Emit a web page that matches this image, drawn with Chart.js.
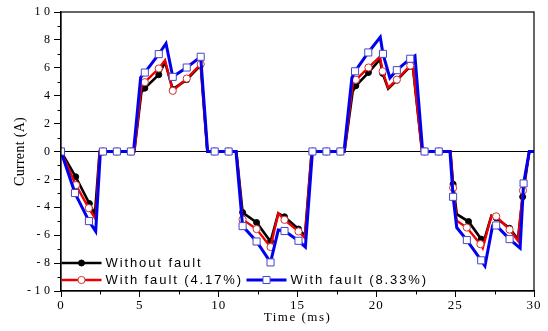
<!DOCTYPE html>
<html>
<head>
<meta charset="utf-8">
<script src="https://cdn.jsdelivr.net/npm/chart.js@4.4.1/dist/chart.umd.min.js"></script>
<style>
  html, body { margin: 0; padding: 0; background: #fff; }
  #wrap { width: 548px; height: 331px; }
</style>
</head>
<body>
<div id="wrap"><canvas id="currentChart"></canvas></div>
<script>
const seriesLabels = ["Without fault", "With fault (4.17%)", "With fault (8.33%)"];

// phase current, healthy drive (ms, A); mark = 1 where a symbol is drawn
const healthyTime = [0, 0.93, 1.8, 2.15, 2.45, 2.658, 3.544, 4.43, 4.65, 5.1, 5.316, 6.202, 6.6, 7.088, 7.974, 8.86, 9.28, 9.746, 10.632,
  11.12, 11.518, 12.404, 13.29, 13.78, 14.176, 15.062, 15.47, 15.9, 15.948, 16.834, 17.72, 17.98, 18.5, 18.7, 19.5, 20.23, 20.4, 20.75,
  21.3, 22.15, 22.3, 22.9, 23.06, 23.96, 24.7, 24.87, 25.1, 25.85, 26.65, 26.8, 27.3, 27.6, 28.45, 28.98, 29.28, 29.7, 30];
const healthyCurrent = [0, -1.81, -3.73, -4.5, 0, 0, 0, 0, 0, 4.25, 4.54, 5.5, 6.4, 4.45, 5.15, 6.2, 0, 0, 0,
  0, -4.37, -5.09, -6.45, -4.44, -4.68, -5.56, -6.04, 0, 0, 0, 0, 0, 4.3, 4.71, 5.66, 6.6, 5.6, 4.5,
  5.1, 6.1, 6.25, 0, 0, 0, 0, -2.34, -4.49, -5.02, -6.28, -6.5, -4.6, -4.75, -5.5, -6.3, -3.25, 0, 0];
const healthyMark = [1, 1, 1, 0, 0, 1, 1, 1, 0, 0, 1, 1, 0, 1, 1, 1, 0, 1, 1,
  0, 1, 1, 1, 0, 1, 1, 0, 0, 1, 1, 1, 0, 0, 1, 1, 0, 1, 0,
  1, 1, 0, 0, 1, 1, 0, 1, 0, 1, 1, 0, 0, 1, 1, 0, 1, 0, 0];

// 4.17 % fault
const fault1Time = [0, 0.95, 1.76, 2.2, 2.45, 2.658, 3.544, 4.43, 4.65, 5.1, 5.316, 6.202, 6.6, 7.088, 7.974, 8.86, 9.28, 9.746, 10.632,
  11.12, 11.518, 12.404, 13.29, 13.78, 14.176, 15.062, 15.47, 15.9, 15.948, 16.834, 17.72, 17.98, 18.5, 18.7, 19.5, 20.23, 20.4, 20.75,
  21.3, 22.15, 22.3, 22.9, 23.06, 23.96, 24.7, 24.87, 25.1, 25.74, 26.6, 26.75, 27.3, 27.6, 28.45, 28.98, 29.3, 29.7, 30];
const fault1Current = [0, -2.41, -4.06, -4.85, 0, 0, 0, 0, 0, 4.65, 4.97, 5.95, 6.55, 4.35, 5.23, 6.26, 0, 0, 0,
  0, -4.87, -5.56, -6.85, -4.44, -4.9, -5.73, -6.2, 0, 0, 0, 0, 0, 4.8, 5.14, 6.02, 6.8, 5.75, 4.56,
  5.15, 6.16, 6.3, 0, 0, 0, 0, -2.6, -4.97, -5.45, -6.64, -6.93, -4.61, -4.65, -5.6, -6.4, -2.8, 0, 0];
const fault1Mark = [1, 1, 1, 0, 0, 1, 1, 1, 0, 0, 1, 1, 0, 1, 1, 1, 0, 1, 1,
  0, 1, 1, 1, 0, 1, 1, 0, 0, 1, 1, 1, 0, 0, 1, 1, 0, 1, 0,
  1, 1, 0, 0, 1, 1, 0, 1, 0, 1, 1, 0, 0, 1, 1, 0, 1, 0, 0];

// 8.33 % fault
const fault2Time = [0, 0.886, 1.772, 2.2, 2.5, 2.658, 3.544, 4.43, 4.6, 5.05, 5.316, 6.202, 6.66, 7.088, 7.974, 8.86, 9.3, 9.746, 10.632,
  11.1, 11.518, 12.404, 13.29, 13.78, 14.176, 15.062, 15.5, 15.948, 16.834, 17.72, 17.95, 18.45, 18.65, 19.49, 20.25, 20.42, 20.86,
  21.3, 22.15, 22.45, 22.94, 23.06, 23.96, 24.67, 24.87, 25.1, 25.74, 26.65, 26.89, 27.37, 27.6, 28.45, 29.12, 29.34, 29.7, 30];
const fault2Current = [0, -2.98, -4.99, -5.73, 0, 0, 0, 0, 0, 5.3, 5.66, 6.98, 7.74, 5.35, 6.02, 6.79, 0, 0, 0,
  0, -5.35, -6.45, -7.95, -5.63, -5.7, -6.4, -6.85, 0, 0, 0, 0, 5.3, 5.75, 7.1, 8.2, 7.0, 5.27,
  5.83, 6.65, 6.86, 0, 0, 0, 0, -3.25, -5.45, -6.35, -7.8, -8.2, -5.33, -5.3, -6.28, -6.93, -2.29, 0, 0];
const fault2Mark = [1, 1, 1, 0, 0, 1, 1, 1, 0, 0, 1, 1, 0, 1, 1, 1, 0, 1, 1,
  0, 1, 1, 1, 0, 1, 1, 0, 1, 1, 1, 0, 0, 1, 1, 0, 1, 0,
  1, 1, 0, 0, 1, 1, 0, 1, 0, 1, 1, 0, 0, 1, 1, 0, 1, 0, 0];

const toPoints = (t, v) => t.map((x, i) => ({ x: x, y: v[i] }));

const styles = [
  { color: "#000000", width: 2.6, pointStyle: "circle", radius: 3, fill: "#000000", edge: "#000000" },
  { color: "#ee0000", width: 2.4, pointStyle: "circle", radius: 3.6, fill: "#ffffff", edge: "#d03030" },
  { color: "#0000ee", width: 3, pointStyle: "rect", radius: 5, fill: "#ffffff", edge: "#4646c8" },
];

function makeDataset(i, time, current, mark, order) {
  const s = styles[i];
  return {
    label: seriesLabels[i],
    data: toPoints(time, current),
    borderColor: s.color,
    borderWidth: s.width,
    pointStyle: s.pointStyle,
    pointRadius: (ctx) => (mark[ctx.dataIndex] ? s.radius : 0),
    pointBackgroundColor: s.fill,
    pointBorderColor: s.edge,
    pointBorderWidth: 1,
    pointHoverRadius: 0,
    tension: 0,
    order: order,
  };
}

// letter spacing for axis text, origin style
const spacing = { yLabels: "3.5px", xLabels: "1px", xTitle: "1.5px", yTitle: "0.3px" };

function spaced(fn, amount) {
  return function (area) {
    const c = this.ctx;
    c.save();
    c.letterSpacing = amount;
    fn.call(this, area);
    c.restore();
  };
}

const framePlugin = {
  id: "frame",
  beforeDraw(chart) {
    const { x, y } = chart.scales;
    if (!y._spaced) {
      y.drawLabels = spaced(y.drawLabels, spacing.yLabels);
      y.drawTitle = spaced(y.drawTitle, spacing.yTitle);
      x.drawLabels = spaced(x.drawLabels, spacing.xLabels);
      x.drawTitle = spaced(x.drawTitle, spacing.xTitle);
      y._spaced = true;
    }
  },
  afterDraw(chart) {
    const ctx = chart.ctx;
    const { left, right, top, bottom } = chart.chartArea;
    const { x, y } = chart.scales;
    ctx.save();
    ctx.strokeStyle = "#000";
    ctx.lineWidth = 1.2;
    ctx.strokeRect(left, top, right - left, bottom - top);

    // minor ticks
    ctx.lineWidth = 1;
    ctx.beginPath();
    for (let v = -9; v <= 9; v += 2) {
      const py = Math.round(y.getPixelForValue(v)) + 0.5;
      ctx.moveTo(left - 3.5, py);
      ctx.lineTo(left, py);
    }
    for (let t = 2.5; t < 30; t += 5) {
      const px = Math.round(x.getPixelForValue(t)) + 0.5;
      ctx.moveTo(px, bottom);
      ctx.lineTo(px, bottom + 3.5);
    }
    ctx.stroke();

    // legend
    const rows = [
      { i: 0, x: 61.5, y: 263 },
      { i: 1, x: 61.5, y: 280 },
      { i: 2, x: 246.5, y: 280 },
    ];
    ctx.font = "13px 'Liberation Sans', Arial, sans-serif";
    ctx.letterSpacing = "1.9px";
    ctx.textBaseline = "middle";
    ctx.fillStyle = "#000";
    rows.forEach((r) => {
      const s = styles[r.i];
      ctx.strokeStyle = s.color;
      ctx.lineWidth = s.width;
      ctx.beginPath();
      ctx.moveTo(r.x, r.y);
      ctx.lineTo(r.x + 40, r.y);
      ctx.stroke();
      ctx.fillStyle = s.fill;
      ctx.strokeStyle = s.edge;
      ctx.lineWidth = 1;
      Chart.helpers.drawPoint(ctx, { pointStyle: s.pointStyle, radius: s.radius, borderWidth: 1 }, r.x + 20, r.y);
      ctx.fillStyle = "#000";
      ctx.fillText(seriesLabels[r.i], r.x + 44, r.y + 0.5);
    });
    ctx.restore();
  },
};

window.onload = function () {
  const ctx = document.getElementById("currentChart").getContext("2d");
  new Chart(ctx, {
    type: "line",
    data: {
      datasets: [
        makeDataset(0, healthyTime, healthyCurrent, healthyMark, 3),
        makeDataset(1, fault1Time, fault1Current, fault1Mark, 2),
        makeDataset(2, fault2Time, fault2Current, fault2Mark, 1),
      ],
    },
    options: {
      responsive: true,
      maintainAspectRatio: false,
      animation: false,
      devicePixelRatio: 1,
      layout: { padding: { top: 12, right: 14, left: 0, bottom: 0 } },
      plugins: { legend: { display: false }, tooltip: { enabled: false } },
      events: [],
      scales: {
        x: {
          type: "linear",
          min: 0,
          max: 30,
          ticks: {
            stepSize: 5,
            color: "#000",
            padding: 1,
            maxRotation: 0,
            font: { family: "'Liberation Serif', 'Times New Roman', serif", size: 13 },
          },
          grid: { drawOnChartArea: false, tickLength: 6, tickColor: "#000", tickWidth: 1 },
          border: { color: "#000", width: 1.2 },
          title: {
            display: true,
            text: "Time (ms)",
            color: "#000",
            font: { family: "'Liberation Serif', 'Times New Roman', serif", size: 13 },
            padding: { top: 0, bottom: 5.5 },
          },
          afterFit: (s) => { s.height = 40; },
        },
        y: {
          min: -10,
          max: 10,
          ticks: {
            stepSize: 2,
            color: "#000",
            padding: 0.5,
            font: { family: "'Liberation Serif', 'Times New Roman', serif", size: 12 },
          },
          grid: {
            color: (c) => (c.tick && c.tick.value === 0 ? "#000" : "rgba(0,0,0,0)"),
            lineWidth: 1,
            tickLength: 7,
            tickColor: "#000",
            tickWidth: 1,
          },
          border: { color: "#000", width: 1.2 },
          title: {
            display: true,
            text: "Current (A)",
            color: "#000",
            font: { family: "'Liberation Serif', 'Times New Roman', serif", size: 14 },
            padding: { top: 12.3, bottom: 0 },
          },
          afterFit: (s) => { s.width = 61; },
        },
      },
    },
    plugins: [framePlugin],
  });
};
</script>
</body>
</html>
